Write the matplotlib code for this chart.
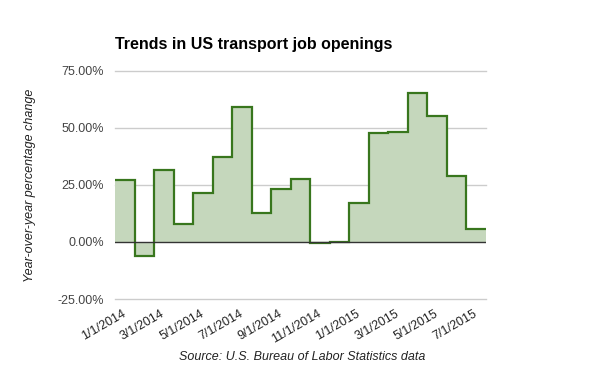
import numpy as np
import matplotlib
matplotlib.use('Agg')
import matplotlib.pyplot as plt
from matplotlib.ticker import FuncFormatter

plt.rcParams['font.family'] = ['Liberation Sans', 'DejaVu Sans']

# Monthly year-over-year change (%), Jan 2014 .. Jul 2015
months = ['1/1/2014', '2/1/2014', '3/1/2014', '4/1/2014', '5/1/2014', '6/1/2014',
          '7/1/2014', '8/1/2014', '9/1/2014', '10/1/2014', '11/1/2014', '12/1/2014',
          '1/1/2015', '2/1/2015', '3/1/2015', '4/1/2015', '5/1/2015', '6/1/2015',
          '7/1/2015']
values = [27.3, -6.3, 31.6, 8.0, 21.5, 37.1, 59.3, 12.7, 23.2, 27.6, -0.6, 0.2,
          17.2, 47.8, 48.2, 65.4, 55.4, 28.8, 5.6]
yticks = [-25, 0, 25, 50, 75]

fill_color = '#c5d7bc'
line_color = '#38761d'

fig = plt.figure(figsize=(6, 3.71), dpi=100)
ax = fig.add_axes([115 / 600, 1 - 299 / 371, (486 - 115) / 600, (299 - 71) / 371])

vals = np.array(values)
edges = np.arange(len(vals) + 1) - 0.5
ax.fill_between(edges, np.append(vals, vals[-1]), 0, step='post',
                color=fill_color, lw=0, zorder=2)
ax.stairs(vals, edges, baseline=None, color=line_color, lw=1.6, zorder=4)

ax.set_xlim(edges[0], edges[-1])
ax.set_ylim(-25, 75)
ax.set_yticks(yticks)
ax.yaxis.set_major_formatter(FuncFormatter(lambda v, p: f'{v:.2f}%'))
for y in yticks:
    if y == 0:
        ax.axhline(0, color='#333333', lw=1.0, zorder=5)
    else:
        ax.axhline(y, color='#cccccc', lw=1.0, zorder=1, clip_on=False)

tick_pos = np.arange(0, len(months), 2)
ax.set_xticks(tick_pos)
ax.set_xticklabels([months[i] for i in tick_pos], rotation=30, ha='right',
                   rotation_mode='anchor', va='center', fontsize=9, color='#222222')
ax.tick_params(axis='x', length=0, pad=10)
ax.tick_params(axis='y', length=0, pad=8, labelsize=9, labelcolor='#444444')
for s in ax.spines.values():
    s.set_visible(False)

fig.text(115 / 600, 1 - 45 / 371, 'Trends in US transport job openings',
         fontsize=11.5, fontweight='bold', ha='left', va='center')
fig.text(30 / 600, 1 - 185 / 371, 'Year-over-year percentage change',
         fontsize=9, style='italic', rotation=90, ha='center', va='center',
         color='#222222')
fig.text(302 / 600, 1 - 357 / 371, 'Source: U.S. Bureau of Labor Statistics data',
         fontsize=9, style='italic', ha='center', va='center', color='#222222')

fig.savefig('out.png', dpi=100)
